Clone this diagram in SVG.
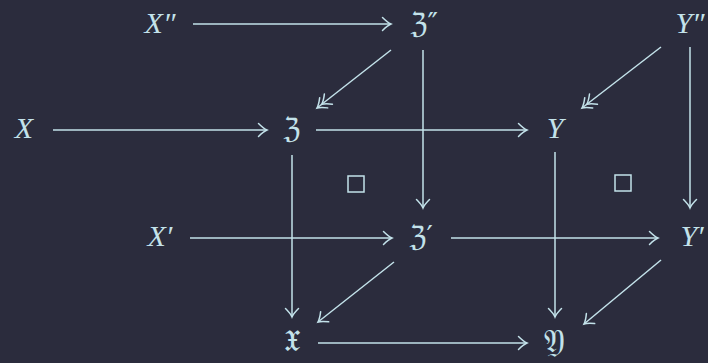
<svg xmlns="http://www.w3.org/2000/svg" width="708" height="363" viewBox="0 0 708 363">
<defs>
<style>
.l{stroke:#c3e2ea;stroke-width:1.5;fill:none}
.h{stroke:#c3e2ea;stroke-width:1.5;fill:none;stroke-linecap:round}
text{fill:#c3e2ea;font-family:"Liberation Serif","DejaVu Serif",serif;font-size:30px;font-style:italic;text-anchor:middle}
text.f{font-style:normal;font-family:"DejaVu Sans","DejaVu Serif",serif;font-size:28px}
</style>
<marker id="a" markerUnits="userSpaceOnUse" markerWidth="20" markerHeight="20" viewBox="-12 -10 14 20" refX="0" refY="0" orient="auto">
<path class="h" d="M-8.5,-6.5 Q-3.5,-1.5 0,0 Q-3.5,1.5 -8.5,6.5"/>
</marker>
<marker id="b" markerUnits="userSpaceOnUse" markerWidth="26" markerHeight="20" viewBox="-18 -10 20 20" refX="0" refY="0" orient="auto">
<path class="h" d="M-8.5,-6.5 Q-3.5,-1.5 0,0 Q-3.5,1.5 -8.5,6.5 M-14.5,-6.5 Q-9.5,-1.5 -6,0 Q-9.5,1.5 -14.5,6.5"/>
</marker>
</defs>
<rect width="708" height="363" fill="#2b2c3d"/>
<g id="connectors">
<line class="l" x1="193" y1="24" x2="391" y2="24" marker-end="url(#a)"/>
<line class="l" x1="53" y1="130" x2="267" y2="130" marker-end="url(#a)"/>
<line class="l" x1="316" y1="130" x2="527" y2="130" marker-end="url(#a)"/>
<line class="l" x1="391" y1="50" x2="317" y2="108" marker-end="url(#b)"/>
<line class="l" x1="423" y1="50" x2="423" y2="208" marker-end="url(#a)"/>
<line class="l" x1="661" y1="47" x2="582" y2="108" marker-end="url(#b)"/>
<line class="l" x1="690" y1="47" x2="690" y2="208" marker-end="url(#a)"/>
<line class="l" x1="292" y1="155" x2="292" y2="317" marker-end="url(#a)"/>
<line class="l" x1="555" y1="152" x2="555" y2="317" marker-end="url(#a)"/>
<line class="l" x1="190" y1="238" x2="392" y2="238" marker-end="url(#a)"/>
<line class="l" x1="451" y1="238" x2="658" y2="238" marker-end="url(#a)"/>
<line class="l" x1="394" y1="262" x2="318" y2="322" marker-end="url(#a)"/>
<line class="l" x1="661" y1="260" x2="584" y2="324" marker-end="url(#a)"/>
<line class="l" x1="318" y1="343" x2="527" y2="343" marker-end="url(#a)"/>
</g>
<g id="n-X2"><text x="160" y="33">X″</text></g>
<g id="n-Z2"><text class="f" x="424" y="33">ℨ″</text></g>
<g id="n-Y2"><text x="690" y="33">Y″</text></g>
<g id="n-X"><text x="24" y="138">X</text></g>
<g id="n-Z"><text class="f" x="292" y="138">ℨ</text></g>
<g id="n-Y"><text x="555" y="138">Y</text></g>
<g id="n-X1"><text x="160" y="246">X′</text></g>
<g id="n-Z1"><text class="f" x="421" y="246">ℨ′</text></g>
<g id="n-Y1"><text x="692" y="246">Y′</text></g>
<g id="n-x"><text class="f" x="292" y="351" style="font-size:42px">𝔵</text></g>
<g id="n-y"><text class="f" x="554" y="352" style="font-size:32px">𝔜</text></g>
<g id="sq1"><rect class="l" x="348" y="176" width="16" height="16"/></g>
<g id="sq2"><rect class="l" x="615" y="175" width="16" height="16"/></g>
</svg>
